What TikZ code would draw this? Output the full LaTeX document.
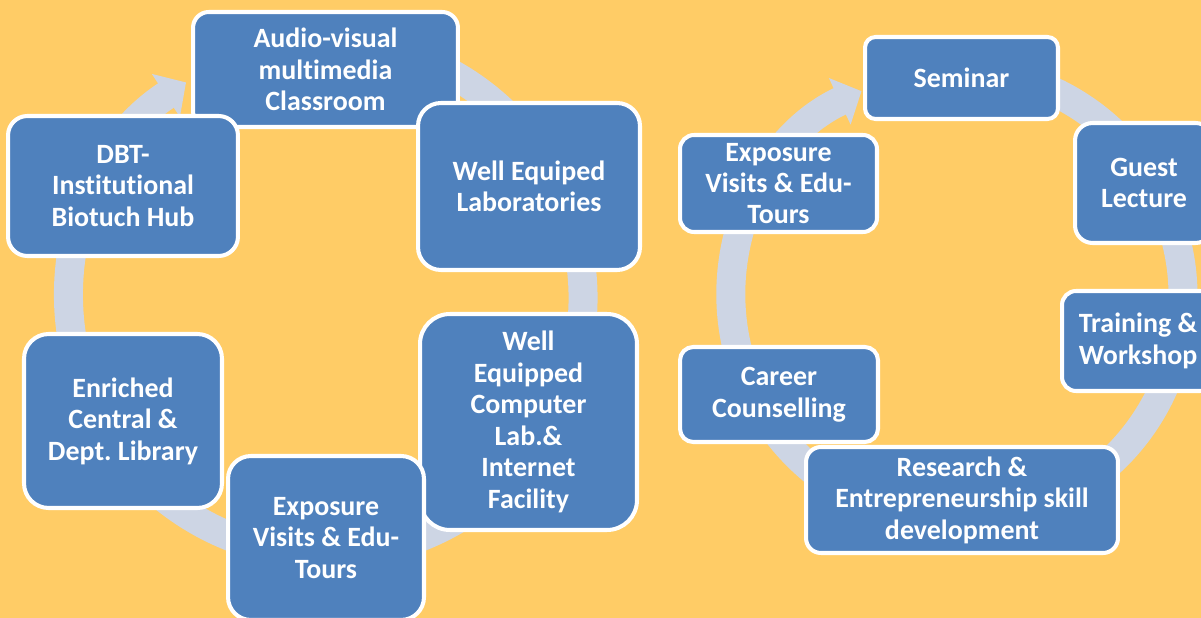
\documentclass[tikz,border=0pt]{standalone}
\usepackage{fontspec}
\setmainfont[Ligatures=NoCommon,Contextuals=NoAlternate]{Carlito}
\usetikzlibrary{arrows.meta}
\definecolor{bg}{HTML}{FFCC66}
\definecolor{boxblue}{HTML}{4F81BD}
\definecolor{ringgray}{HTML}{CDD5E4}
\frenchspacing
\tikzset{ring/.style={line width=0.58cm,draw=ringgray,-{Triangle[width=1.0cm,length=0.48cm]}}}
\tikzset{item/.style={draw=white,line width=2.3pt,fill=boxblue,text=white,align=center,inner sep=0pt,rounded corners=#1,font=\fontsize{15.9}{17.9}\selectfont\bfseries}}

\begin{document}
\begin{tikzpicture}[x=0.02cm,y=-0.02cm]
  \clip (0,0) rectangle (1201,618);
  \fill[bg] (0,0) rectangle (1201,618);
  % cycle arrows
  \draw[ring] (326,298) ++(-115:257) arc[start angle=-115,end angle=237,radius=257];
  \draw[ring] (957,296) ++(-107:226) arc[start angle=-107,end angle=245,radius=226];
  % left cycle
  \node[item=9pt,minimum width=5.3cm,minimum height=2.3cm] (audio) at (325.5,69.5) {Audio-visual\\multimedia\\Classroom};
  \node[item=13pt,minimum width=4.44cm,minimum height=3.34cm] (labs) at (529,186.5) {Well Equiped\\Laboratories};
  \node[item=17pt,minimum width=4.34cm,minimum height=4.32cm] (complab) at (528.5,422) {Well\\Equipped\\Computer\\Lab.\&\\Internet\\Facility};
  \node[item=13pt,minimum width=3.92cm,minimum height=3.28cm] (toursL) at (326,538) {Exposure\\Visits \& Edu-\\Tours};
  \node[item=14pt,minimum width=3.96cm,minimum height=3.48cm] (library) at (123,421) {Enriched\\Central \&\\Dept. Library};
  \node[item=11pt,minimum width=4.6cm,minimum height=2.8cm] (dbt) at (123,186) {DBT-\\Institutional\\Biotuch Hub};
  % right cycle
  \node[item=6pt,minimum width=3.86cm,minimum height=1.64cm] (seminar) at (961.5,78) {Seminar};
  \node[item=10pt,minimum width=2.76cm,minimum height=2.4cm] (guest) at (1144,183) {Guest\\Lecture};
  \node[item=8pt,minimum width=3.04cm,minimum height=2.0cm] (training) at (1138,341) {Training \&\\Workshop};
  \node[item=8.5pt,minimum width=6.24cm,minimum height=2.12cm] (research) at (962,500) {Research \&\\Entrepreneurship skill\\development};
  \node[item=7.5pt,minimum width=3.96cm,minimum height=1.9cm] (career) at (779,394.5) {Career\\Counselling};
  \node[item=8pt,minimum width=3.94cm,minimum height=1.94cm] (toursR) at (778.5,183.5) {Exposure\\Visits \& Edu-\\Tours};
\end{tikzpicture}
\end{document}
